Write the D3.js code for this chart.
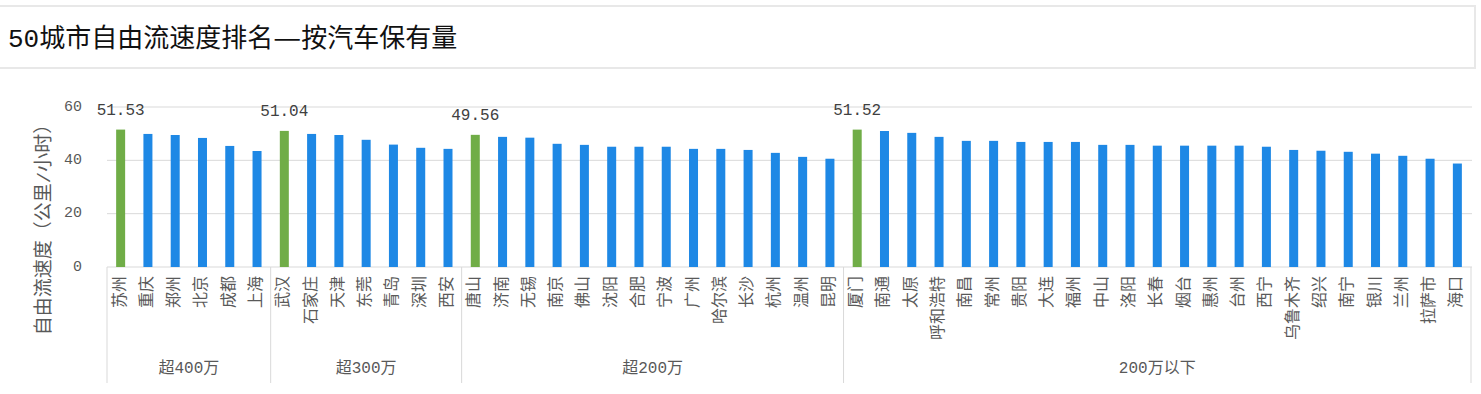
<!DOCTYPE html>
<html>
<head>
<meta charset="utf-8">
<title>50城市自由流速度排名</title>
<style>
    body{ margin:0; background:#fff; }
    svg{ display:block; }
    text{ font-family: "Liberation Mono", "Noto Sans CJK SC", sans-serif; }
    .cjk{ font-family: "Noto Sans CJK SC", sans-serif; }
</style>
<script src="https://cdn.jsdelivr.net/npm/d3@7"></script>
</head>
<body>
<svg></svg>
<script>
const titleParts = ["50城市自由流速度排名", "—", "按汽车保有量"];
const yTitle = "自由流速度（公里/小时）";
const groupNames = ["超400万", "超300万", "超200万", "200万以下"];
const groupSizes = [6, 7, 14, 23];
const cities = [
    "苏州","重庆","郑州","北京","成都","上海",
    "武汉","石家庄","天津","东莞","青岛","深圳","西安",
    "唐山","济南","无锡","南京","佛山","沈阳","合肥","宁波","广州","哈尔滨","长沙","杭州","温州","昆明",
    "厦门","南通","太原","呼和浩特","南昌","常州","贵阳","大连","福州","中山","洛阳","长春","烟台","惠州","台州","西宁","乌鲁木齐","绍兴","南宁","银川","兰州","拉萨市","海口"
];
const speeds = [
    51.53, 49.9, 49.5, 48.4, 45.4, 43.5,
    51.04, 49.9, 49.5, 47.7, 45.9, 44.7, 44.3,
    49.56, 48.8, 48.5, 46.2, 45.8, 45.1, 45.1, 45.1, 44.3, 44.3, 43.9, 42.8, 41.3, 40.6,
    51.52, 51.0, 50.3, 48.8, 47.3, 47.3, 46.9, 46.9, 46.9, 45.8, 45.8, 45.5, 45.5, 45.5, 45.5, 45.1, 43.9, 43.6, 43.2, 42.5, 41.7, 40.6, 38.8
];
const yTicks = [0, 20, 40, 60];

const W = 1481, H = 394;
const svg = d3.select("svg").attr("width", W).attr("height", H);

// title box
svg.append("rect").attr("x", -2).attr("y", 6).attr("width", 1477).attr("height", 62)
    .attr("fill", "#fff").attr("stroke", "#e8e8e8").attr("stroke-width", 2);
const t = svg.append("text").attr("x", 8).attr("y", 47)
    .style("font-size", "26px").attr("fill", "#111");
t.selectAll("tspan").data(titleParts).join("tspan")
    .attr("class", (d, i) => i === 1 ? "cjk" : null)
    .text(d => d);
t.select("tspan.cjk").attr("textLength", 28).attr("lengthAdjust", "spacingAndGlyphs");

// group index of each city
let groupStart = [], acc = 0;
groupSizes.forEach(n => { groupStart.push(acc); acc += n; });
const isFirst = i => groupStart.includes(i);

const x = d3.scaleBand().domain(d3.range(cities.length)).range([107, 1471]);
const y = d3.scaleLinear().domain([0, 60]).range([267, 107]);
const bw = x.bandwidth() * 0.33;

// gridlines
svg.append("g").selectAll("line").data(yTicks).join("line")
    .attr("x1", 107).attr("x2", 1472)
    .attr("y1", d => y(d)).attr("y2", d => y(d))
    .attr("stroke", "#d9d9d9").attr("stroke-width", 1);

// y tick labels
svg.append("g").selectAll("text").data(yTicks).join("text")
    .attr("x", 82).attr("y", d => y(d)).attr("text-anchor", "end")
    .attr("dominant-baseline", "central").style("font-size", "15px")
    .attr("fill", "#595959").text(d => d);

// y title
svg.append("text").attr("transform", "translate(45,225) rotate(-90)")
    .attr("text-anchor", "middle").attr("dominant-baseline", "central")
    .style("font-size", "19px").attr("fill", "#595959").text(yTitle);

// bars
svg.append("g").selectAll("rect").data(speeds).join("rect")
    .attr("x", (d, i) => x(i) + x.bandwidth() / 2 - bw / 2)
    .attr("width", bw)
    .attr("y", d => y(d))
    .attr("height", d => y(0) - y(d))
    .attr("fill", (d, i) => isFirst(i) ? "#70ad47" : "#1e88e5");

// value labels on first bar of each group
svg.append("g").selectAll("text").data(groupStart).join("text")
    .attr("x", i => x(i) + x.bandwidth() / 2)
    .attr("y", i => y(speeds[i]) - 15)
    .attr("text-anchor", "middle").style("font-size", "16px")
    .attr("fill", "#404040").text(i => speeds[i].toFixed(2));

// category labels
svg.append("g").selectAll("text").data(cities).join("text")
    .attr("transform", (d, i) => `translate(${x(i) + x.bandwidth() / 2},276) rotate(-90)`)
    .attr("text-anchor", "end").attr("dominant-baseline", "central")
    .style("font-size", "16px").attr("fill", "#595959").text(d => d);

// group separators and labels
const bounds = groupStart.concat([cities.length]);
svg.append("g").selectAll("line").data(bounds).join("line")
    .attr("x1", i => i === cities.length ? 1471 : x(i))
    .attr("x2", i => i === cities.length ? 1471 : x(i))
    .attr("y1", 267).attr("y2", 383)
    .attr("stroke", "#d9d9d9");
svg.append("g").selectAll("text").data(groupNames).join("text")
    .attr("x", (d, k) => {
        const a = x(groupStart[k]);
        const b = groupStart[k] + groupSizes[k] === cities.length ? 1471 : x(groupStart[k] + groupSizes[k]);
        return (a + b) / 2;
    })
    .attr("y", 369).attr("text-anchor", "middle").attr("dominant-baseline", "central")
    .style("font-size", "16px").attr("fill", "#595959").text(d => d);
</script>
</body>
</html>
